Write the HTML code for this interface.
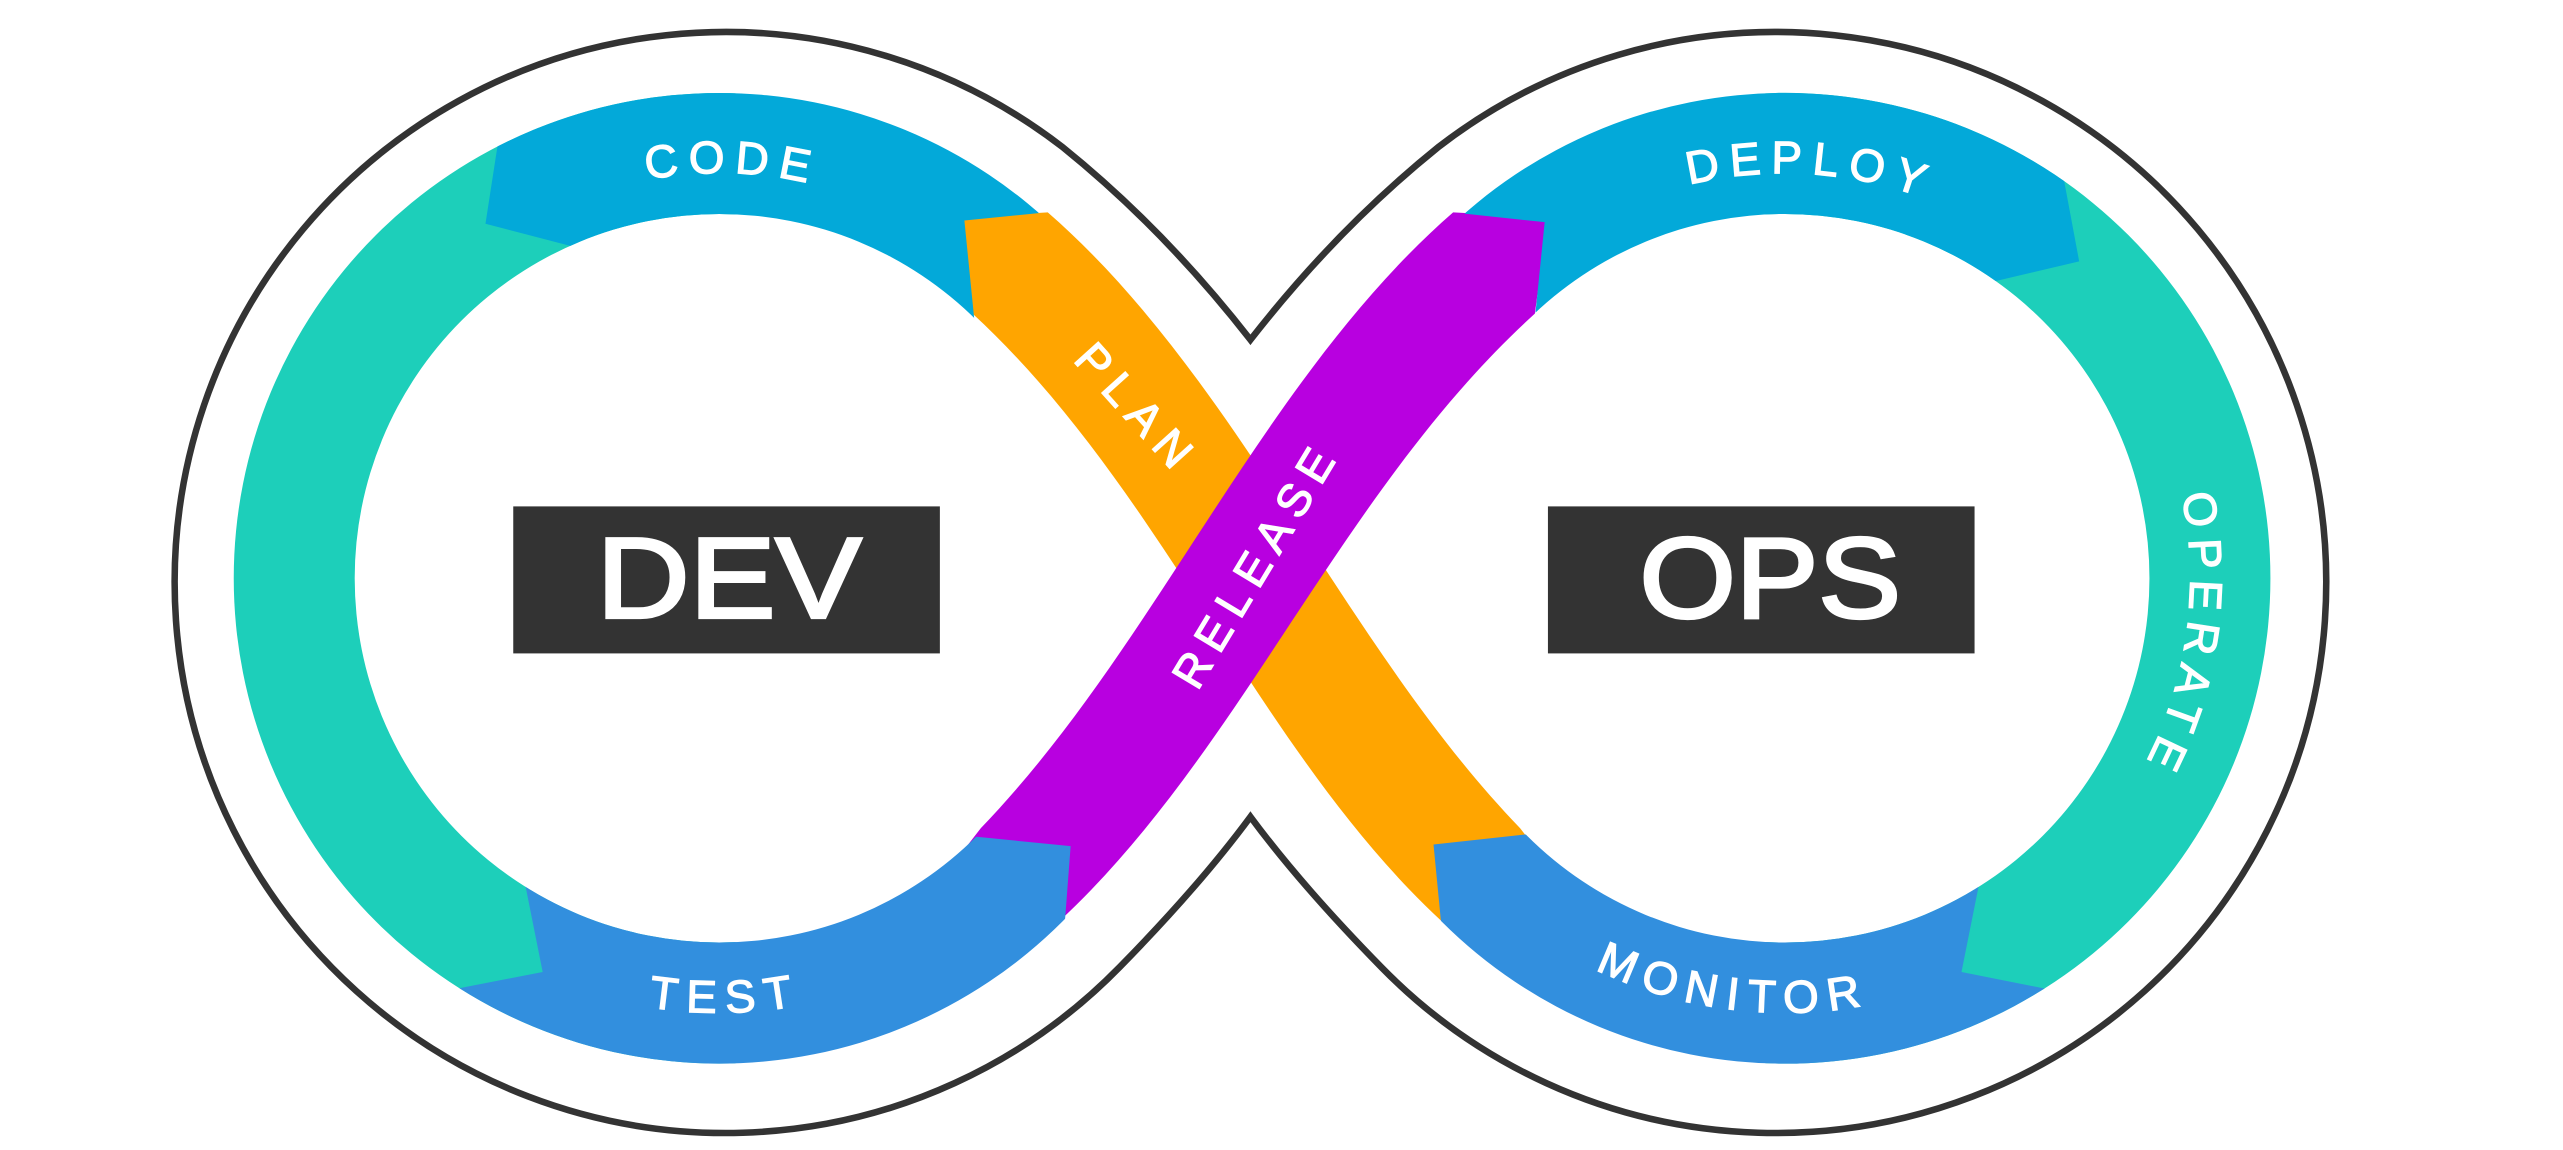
<!DOCTYPE html>
<html><head><meta charset="utf-8">
<style>
html,body{margin:0;padding:0;background:#fff;}
svg{display:block;}
text{font-family:"Liberation Sans",sans-serif;fill:#fff;}
</style></head>
<body>
<svg width="2563" height="1150" viewBox="0 0 1568 704" preserveAspectRatio="none" xmlns="http://www.w3.org/2000/svg">
<defs>
<clipPath id="ringL"><path clip-rule="evenodd" d="M143,354 a297,297 0 1,0 594,0 a297,297 0 1,0 -594,0 Z M217,354 a223,223 0 1,0 446,0 a223,223 0 1,0 -446,0 Z"/></clipPath>
<clipPath id="ringR"><path clip-rule="evenodd" d="M795,354 a297,297 0 1,0 594,0 a297,297 0 1,0 -594,0 Z M869,354 a223,223 0 1,0 446,0 a223,223 0 1,0 -446,0 Z"/></clipPath>
<path id="arcCode" d="M192,354 A248,248 0 0 1 688,354"/>
<path id="arcDeploy" d="M844,354 A248,248 0 0 1 1340,354"/>
<path id="arcTest" d="M174,354 A266,266 0 0 0 706,354"/>
<path id="arcMon" d="M826,354 A266,266 0 0 0 1358,354"/>
<path id="arcOp" d="M1092,106 A248,248 0 0 1 1092,602"/>
</defs>

<g clip-path="url(#ringL)"><rect x="0" y="0" width="450" height="704" fill="#1DCFBA"/></g>
<g clip-path="url(#ringR)"><rect x="1080" y="0" width="488" height="704" fill="#1DCFBA"/></g>

<path fill="#FFA500" d="M589,133 L595,192 C712,300 770,460 882,564 L940,520 L930,507 C822,395 758,232 641,130 Z"/>
<path fill="#B800E0" d="M947,133 L939,192 C820,300 760,460 648,564 L590,520 L600,507 C708,395 772,232 889,130 Z"/>

<g clip-path="url(#ringL)">
<polygon fill="#03A9D9" points="312,0 312,40 297,137 370,156 440,354 597,205 590,135 660,128 660,0"/>
<polygon fill="#328FDE" points="310,485 332,595 250,611 250,704 648,704 648,610 655,518 585,511 440,354"/>
</g>
<g clip-path="url(#ringR)">
<polygon fill="#03A9D9" points="870,0 870,128 945,136 938,205 1092,354 1200,177 1272,160 1258,85 1258,0"/>
<polygon fill="#328FDE" points="886,610 877,517 950,509 1092,354 1222,485 1200,595 1280,611 1280,704 886,704"/>
</g>

<path fill="none" stroke="#333" stroke-width="4" d="M765,208 Q712,140 650,90 A337,337 0 1 0 685,592 Q734,542 765,500 Q796,542 845,592 A337,337 0 1 0 880,90 Q818,140 765,208 Z"/>

<rect x="314" y="310" width="261" height="90" fill="#333"/>
<rect x="947" y="310" width="261" height="90" fill="#333"/>
<text x="365" y="378" font-size="70" textLength="162" lengthAdjust="spacingAndGlyphs" stroke="#fff" stroke-width="2">DEV</text>
<text x="1003" y="378" font-size="70" textLength="160" lengthAdjust="spacingAndGlyphs" stroke="#fff" stroke-width="2">OPS</text>

<g font-size="28" letter-spacing="6" stroke="#fff" stroke-width="0.8">
<text text-anchor="middle"><textPath href="#arcCode" startOffset="51%">CODE</textPath></text>
<text text-anchor="middle"><textPath href="#arcDeploy" startOffset="52%">DEPLOY</textPath></text>
<text text-anchor="middle"><textPath href="#arcTest" startOffset="50.5%">TEST</textPath></text>
<text text-anchor="middle"><textPath href="#arcMon" startOffset="46%">MONITOR</textPath></text>
<text text-anchor="middle"><textPath href="#arcOp" startOffset="54.5%">OPERATE</textPath></text>
<text text-anchor="middle" transform="translate(696,250) rotate(48)" y="10">PLAN</text>
<text text-anchor="middle" transform="translate(768,345) rotate(-59)" y="10">RELEASE</text>
</g>
</svg>
</body></html>
